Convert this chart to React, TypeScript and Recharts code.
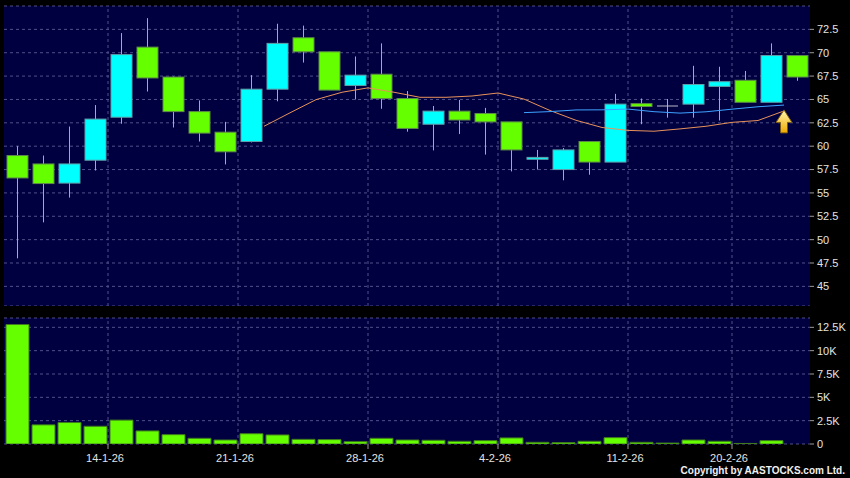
import React from 'react';
import {
  ComposedChart, Bar, Line, XAxis, YAxis, CartesianGrid, ReferenceLine, ReferenceDot,
} from 'recharts';

const dates = [
  '8-1-26', '9-1-26', '12-1-26', '13-1-26', '14-1-26', '15-1-26', '16-1-26', '19-1-26', '20-1-26', '21-1-26',
  '22-1-26', '23-1-26', '26-1-26', '27-1-26', '28-1-26', '29-1-26', '30-1-26', '2-2-26', '3-2-26', '4-2-26',
  '5-2-26', '6-2-26', '9-2-26', '10-2-26', '11-2-26', '12-2-26', '13-2-26', '16-2-26', '20-2-26', '23-2-26', '24-2-26',
];
const opens = [59.0, 58.1, 56.05, 58.5, 63.1, 70.6, 67.4, 63.7, 61.5, 60.5, 66.1, 71.6, 70.1, 66.5, 67.7, 65.1, 62.35, 63.75, 63.5, 62.6, 58.6, 57.5, 60.5, 58.3, 64.55, 64.3, 64.5, 66.4, 67.05, 64.7, 69.7];
const highs = [60.0, 59.0, 62.1, 64.4, 72.1, 73.7, 67.45, 64.9, 62.6, 67.6, 73.1, 72.9, 70.1, 69.6, 71.0, 65.9, 64.3, 64.95, 64.1, 62.6, 59.6, 59.8, 60.5, 65.6, 65.1, 65.05, 68.6, 68.5, 68.05, 71.0, 69.7];
const lows = [48.0, 51.85, 54.5, 57.4, 62.4, 65.85, 62.0, 60.5, 58.05, 60.4, 64.8, 68.95, 66.0, 65.0, 64.0, 61.55, 59.55, 61.3, 59.1, 57.3, 57.5, 56.35, 56.95, 58.3, 62.35, 63.05, 63.05, 62.75, 64.7, 64.7, 67.0];
const closes = [56.6, 56.0, 58.1, 62.9, 69.8, 67.3, 63.7, 61.4, 59.4, 66.1, 71.0, 70.1, 66.0, 67.6, 65.1, 61.9, 63.75, 62.8, 62.6, 59.6, 58.8, 59.6, 58.3, 64.5, 64.25, 64.3, 66.6, 66.9, 64.7, 69.7, 67.4];
const volumes = [12800, 2050, 2300, 1900, 2560, 1400, 1000, 610, 430, 1100, 970, 500, 470, 250, 610, 430, 400, 290, 360, 650, 180, 145, 290, 680, 180, 100, 430, 290, 60, 360, 0];
// moving averages (10 day orange, 20 day blue)
const ma10 = [null, null, null, null, null, null, null, null, null, 62.13, 63.57, 64.98, 65.77, 66.24, 65.77, 65.23, 65.23, 65.37, 65.69, 65.04, 63.82, 62.77, 62.0, 61.69, 61.6, 61.85, 62.13, 62.55, 62.75, 63.77, null];
const ma20 = [null, null, null, null, null, null, null, null, null, null, null, null, null, null, null, null, null, null, null, 63.59, 63.7, 63.88, 63.89, 63.97, 63.69, 63.54, 63.68, 63.96, 64.22, 64.4, null];

const priceTicks = [45, 47.5, 50, 52.5, 55, 57.5, 60, 62.5, 65, 67.5, 70, 72.5];
const volTicks = [0, 2500, 5000, 7500, 10000, 12500];
const dateTicks = [4, 9, 14, 19, 24, 28];
const arrowAt = { x: 30, y: 62.6 };

const data = dates.map((d, i) => ({
  date: d,
  pos: i + 1,
  open: opens[i],
  high: highs[i],
  low: lows[i],
  close: closes[i],
  volume: volumes[i],
  ma10: ma10[i],
  ma20: ma20[i],
}));

const NAVY = '#000040';
const GRID = '#50508a';
const TEXT = '#e4e4e4';
const font = '"Liberation Sans", Arial, sans-serif';

const Candle = (props: any) => {
  const { x, y, width, height, payload } = props;
  const { open, close, high, low } = payload;
  const top = Math.min(y, y + height);
  const h = Math.abs(height);
  const py = (v: number) => top + ((high - v) / (high - low)) * h;
  const cx = x + width / 2;
  const up = close > open;
  const flat = Math.abs(close - open) < 0.01;
  const bTop = py(Math.max(open, close));
  const bBot = py(Math.min(open, close));
  return (
    <g>
      <line x1={cx} x2={cx} y1={top} y2={top + h} stroke="#a8a8b8" strokeWidth={1} />
      {flat ? (
        <line x1={x} x2={x + width} y1={bTop} y2={bTop} stroke="#b8b8c8" strokeWidth={1} />
      ) : (
        <rect
          x={x}
          y={bTop}
          width={width}
          height={Math.max(bBot - bTop, 1)}
          fill={up ? '#00ffff' : '#66ff00'}
          stroke={up ? '#5f9ea8' : '#5e8a48'}
          strokeWidth={1}
        />
      )}
    </g>
  );
};

const Arrow = (props: any) => {
  const { cx, cy } = props;
  return (
    <g>
      <defs>
        <linearGradient id="arrowFill" x1="0" y1="0" x2="0" y2="1">
          <stop offset="0%" stopColor="#fff6b0" />
          <stop offset="100%" stopColor="#f0a800" />
        </linearGradient>
      </defs>
      <path
        d={`M${cx} ${cy - 12} L${cx + 8} ${cy + 0.5} L${cx + 3.5} ${cy + 0.5} L${cx + 3.5} ${cy + 11} L${cx - 3.5} ${cy + 11} L${cx - 3.5} ${cy + 0.5} L${cx - 8} ${cy + 0.5} Z`}
        fill="url(#arrowFill)"
        stroke="#7a5a10"
        strokeWidth={1}
      />
    </g>
  );
};

const volLabel = (v: number) => (v === 0 ? '0' : `${v / 1000}K`);

export default function App() {
  return (
    <div style={{ position: 'fixed', left: 0, top: 0, width: 850, height: 478, background: '#000', overflow: 'hidden' }}>
      <div style={{ position: 'absolute', left: 0, top: 0 }}>
        <ComposedChart width={850} height={306} data={data} margin={{ top: 6, right: 0, left: 4, bottom: 0 }}>
          <CartesianGrid xAxisId="cat" vertical={false} fill={NAVY} stroke={GRID} strokeDasharray="3 3" />
          <XAxis xAxisId="cat" dataKey="date" hide height={0} />
          <XAxis xAxisId="ma" dataKey="pos" type="number" domain={[0, 31]} allowDataOverflow hide height={0} />
          <YAxis
            orientation="right"
            width={40}
            domain={[42.9, 75]}
            ticks={priceTicks}
            allowDataOverflow
            axisLine={false}
            tickSize={4}
            tickMargin={3}
            tickLine={{ stroke: '#9a9a9a' }}
            tick={{ fill: TEXT, fontSize: 11, fontFamily: font }}
            interval={0}
          />
          {dateTicks.map((t) => (
            <ReferenceLine key={t} xAxisId="ma" x={t} stroke={GRID} strokeDasharray="3 3" />
          ))}
          <Bar
            xAxisId="cat"
            dataKey={(d: any) => [d.low, d.high]}
            barSize={21}
            shape={<Candle />}
            isAnimationActive={false}
          />
          <Line xAxisId="ma" dataKey="ma10" stroke="#e8925a" strokeWidth={1} dot={false} isAnimationActive={false} />
          <Line xAxisId="ma" dataKey="ma20" stroke="#3ea2ff" strokeWidth={1} dot={false} isAnimationActive={false} />
          <ReferenceDot xAxisId="ma" x={arrowAt.x} y={arrowAt.y} shape={<Arrow />} />
        </ComposedChart>
      </div>
      <div style={{ position: 'absolute', left: 0, top: 312 }}>
        <ComposedChart width={850} height={166} data={data} margin={{ top: 6, right: 0, left: 4, bottom: 14 }}>
          <CartesianGrid xAxisId="cat" vertical={false} fill={NAVY} stroke={GRID} strokeDasharray="3 3" />
          <XAxis
            xAxisId="ma"
            dataKey="pos"
            type="number"
            domain={[0, 31]}
            allowDataOverflow
            ticks={dateTicks}
            interval={0}
            height={20}
            axisLine={false}
            tickSize={5}
            tickMargin={5}
            tickLine={{ stroke: '#9a9a9a' }}
            tickFormatter={(v: number) => dates[v]}
            tick={{ fill: TEXT, fontSize: 11, fontFamily: font, dx: -3 }}
          />
          <XAxis xAxisId="cat" dataKey="date" hide height={0} />
          <YAxis
            orientation="right"
            width={40}
            domain={[0, 13500]}
            ticks={volTicks}
            allowDataOverflow
            axisLine={false}
            tickSize={4}
            tickMargin={3}
            tickLine={{ stroke: '#9a9a9a' }}
            tick={{ fill: TEXT, fontSize: 11, fontFamily: font }}
            tickFormatter={volLabel}
            interval={0}
          />
          {dateTicks.map((t) => (
            <ReferenceLine key={t} xAxisId="ma" x={t} stroke={GRID} strokeDasharray="3 3" />
          ))}
          <Bar
            xAxisId="cat"
            dataKey="volume"
            barSize={23}
            fill="#66ff00"
            stroke="#3f7a1c"
            strokeWidth={1}
            isAnimationActive={false}
          />
        </ComposedChart>
      </div>
      <div
        style={{
          position: 'absolute',
          right: 5,
          top: 465,
          color: '#f0f0f0',
          fontFamily: font,
          fontWeight: 'bold',
          fontSize: 10,
          lineHeight: '11px',
          letterSpacing: 0,
          whiteSpace: 'nowrap',
        }}
      >
        Copyright by AASTOCKS.com Ltd.
      </div>
    </div>
  );
}
